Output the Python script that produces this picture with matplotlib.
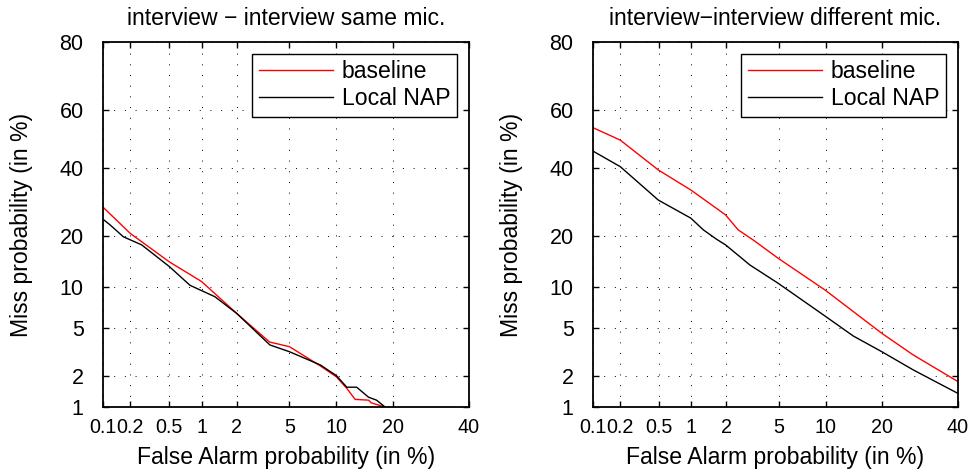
import numpy as np
import matplotlib
matplotlib.use("Agg")
import matplotlib.pyplot as plt
from statistics import NormalDist

plt.rcParams['font.family'] = ['Liberation Sans', 'DejaVu Sans']

# DET curves, values in %
# interview - interview same mic.
same_fa_base = [0.1, 0.2, 0.5, 1.0, 2.0, 3.6, 5.0, 8.0, 10.0, 11.5, 12.8, 15.1, 15.6, 18.3]
same_miss_base = [27.7, 20.6, 14.3, 10.8, 6.5, 3.9, 3.57, 2.44, 1.95, 1.52, 1.19, 1.17, 1.1, 1.0]
same_fa_nap = [0.1, 0.12, 0.168, 0.263, 0.5, 0.785, 1.31, 2.0, 3.62, 5.0, 8.0, 10.0, 11.5, 13.05, 15.1, 16.6, 18.3]
same_miss_nap = [24.3, 22.8, 19.8, 17.9, 13.4, 10.2, 8.55, 6.5, 3.69, 3.24, 2.49, 2.0, 1.56, 1.56, 1.25, 1.17, 1.0]

# interview-interview different mic.
diff_fa_base = [0.1, 0.2, 0.49, 0.99, 1.97, 2.49, 3.26, 4.95, 9.9, 19.9, 27.4, 40.0]
diff_miss_base = [53.9, 49.6, 39.4, 32.9, 25.5, 21.5, 19.0, 15.0, 9.5, 4.58, 3.04, 1.76]
diff_fa_nap = [0.1, 0.2, 0.49, 0.99, 1.28, 1.66, 1.97, 3.07, 4.95, 9.9, 14.3, 19.9, 27.4, 40.0]
diff_miss_nap = [45.8, 40.5, 29.8, 24.6, 21.5, 19.2, 17.9, 13.7, 10.5, 6.22, 4.36, 3.24, 2.25, 1.36]

x_ticks = [0.1, 0.2, 0.5, 1, 2, 5, 10, 20, 40]
y_ticks = [1, 2, 5, 10, 20, 40, 60, 80]

_nd = NormalDist()


def _ppf(p):
    if not np.isfinite(p):
        return np.nan
    return _nd.inv_cdf(min(max(p, 1e-9), 1 - 1e-9))


def _cdf(z):
    if not np.isfinite(z):
        return np.nan
    return _nd.cdf(z)


_ppf_v = np.vectorize(_ppf, otypes=[float])
_cdf_v = np.vectorize(_cdf, otypes=[float])


def probit(p):
    return _ppf_v(np.asarray(p, dtype=float) / 100.0)


def inv_probit(z):
    return _cdf_v(np.asarray(z, dtype=float)) * 100.0


fig = plt.figure(figsize=(9.75, 4.74), dpi=100)
W, H = 975.0, 474.0
ax1 = fig.add_axes([103 / W, (H - 407) / H, 366 / W, 365 / H])
ax2 = fig.add_axes([593 / W, (H - 407) / H, 365 / W, 365 / H])

panels = [
    (ax1, "interview \u2212 interview same mic.", same_fa_base, same_miss_base, same_fa_nap, same_miss_nap),
    (ax2, "interview\u2212interview different mic.", diff_fa_base, diff_miss_base, diff_fa_nap, diff_miss_nap),
]

fs = 16.6
for ax, title, fa_b, miss_b, fa_n, miss_n in panels:
    ax.set_xscale('function', functions=(probit, inv_probit))
    ax.set_yscale('function', functions=(probit, inv_probit))
    ax.plot(fa_b, miss_b, color='red', lw=1.0, label='baseline')
    ax.plot(fa_n, miss_n, color='black', lw=1.0, label='Local NAP')
    ax.set_xlim(0.1, 40)
    ax.set_ylim(1, 80)
    ax.set_xticks(x_ticks)
    ax.set_xticklabels([str(t) for t in x_ticks])
    ax.set_yticks(y_ticks)
    ax.set_yticklabels([str(t) for t in y_ticks])
    ax.minorticks_off()
    ax.grid(True, color='black', lw=0.7, linestyle=(0, (1, 10)))
    ax.tick_params(direction='in', length=4, width=1, top=True, right=True,
                   colors='black')
    # x labels kept a bit smaller so 0.1/0.2/0.5 only just touch
    ax.tick_params(axis='x', pad=8, labelsize=14.2)
    ax.tick_params(axis='y', pad=14, labelsize=15.5)
    for s in ax.spines.values():
        s.set_linewidth(1.3)
    ax.set_title(title, fontsize=fs, pad=12)
    ax.set_xlabel("False Alarm probability (in %)", fontsize=fs)
    ax.set_ylabel("Miss probability (in %)", fontsize=fs)
    ax.xaxis.set_label_coords(0.5, (407 - 446) / 365.0)
    ax.yaxis.set_label_coords(-70 / 366.0, 0.5)
    leg = ax.legend(loc='upper right', fontsize=fs, fancybox=False, framealpha=1,
                    edgecolor='black', borderaxespad=0.5, borderpad=0.3,
                    labelspacing=0.15, handlelength=3.2, handletextpad=0.4)
    leg.get_frame().set_linewidth(1.0)

plt.savefig('out.png', dpi=100)
